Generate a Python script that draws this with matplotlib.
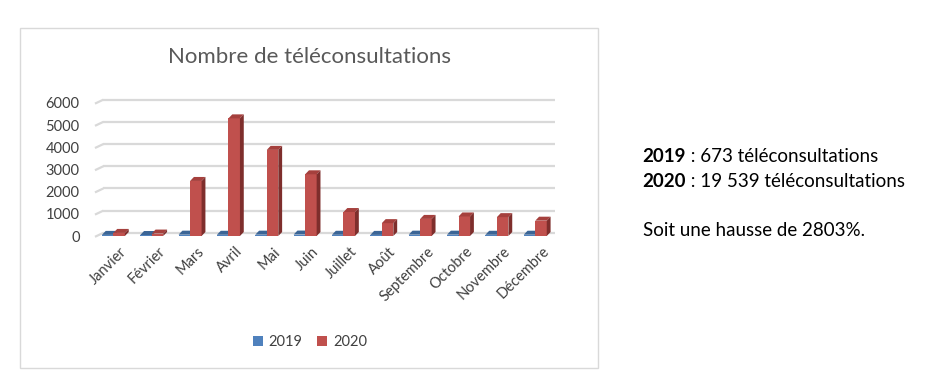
import numpy as np
import matplotlib.pyplot as plt
from matplotlib.patches import Polygon, Rectangle, Patch

plt.rcParams['font.family'] = ['Lato', 'DejaVu Sans']

months = ['Janvier', 'Février', 'Mars', 'Avril', 'Mai', 'Juin', 'Juillet',
          'Août', 'Septembre', 'Octobre', 'Novembre', 'Décembre']
v2019 = [50, 45, 60, 55, 60, 65, 55, 50, 60, 60, 55, 58]
v2020 = [139, 110, 2480, 5300, 3880, 2780, 1080, 580, 770, 880, 850, 690]
yticks = [0, 1000, 2000, 3000, 4000, 5000, 6000]

blue = ('#4F81BD', '#3B6596', '#2C4D74')
red = ('#C0504D', '#A5403D', '#7E2E2C')

fig = plt.figure(figsize=(9.45, 3.86), dpi=100)
ax = fig.add_axes([0.1005, 0.3886, 0.487, 0.345])
ax.set_xlim(-0.5, 11.5)
ax.set_ylim(0, 6000)

dx, dy = 0.1, 180   # fake depth for the 3D look
w = 0.3


def bar3d(x, v, cols):
    front, top, side = cols
    ax.add_patch(Polygon([(x, 0), (x + w, 0), (x + w, v), (x, v)],
                         closed=True, fc=front, ec='none', zorder=3))
    ax.add_patch(Polygon([(x, v), (x + w, v), (x + w + dx, v + dy), (x + dx, v + dy)],
                         closed=True, fc=top, ec='none', zorder=3))
    ax.add_patch(Polygon([(x + w, 0), (x + w + dx, dy), (x + w + dx, v + dy), (x + w, v)],
                         closed=True, fc=side, ec='none', zorder=3))


x = np.arange(len(months))
for i in x:
    bar3d(i - w - 0.02, v2019[i], blue)
    bar3d(i - 0.02, v2020[i], red)

# gridlines on the back wall with the little diagonal on the left
for t in yticks:
    ax.plot([-0.5, -0.28], [t - dy * 0.2, t + dy * 0.8], color='#D9D9D9', lw=1.6,
            zorder=1, clip_on=False, solid_capstyle='butt')
    ax.plot([-0.28, 11.5], [t + dy * 0.8, t + dy * 0.8], color='#D9D9D9', lw=1.6,
            zorder=1, clip_on=False, solid_capstyle='butt')

for s in ax.spines.values():
    s.set_visible(False)
ax.set_yticks(yticks)
ax.set_yticklabels([str(t) for t in yticks], fontsize=10.5, color='#404040')
ax.tick_params(axis='y', length=0, pad=11)
ax.set_xticks(x + 0.15)
ax.set_xticklabels(months, rotation=45, ha='right', rotation_mode='anchor',
                   fontsize=10.5, color='#404040')
ax.tick_params(axis='x', length=0, pad=6)

fig.text(0.328, 0.852, 'Nombre de téléconsultations', ha='center', va='center',
         fontsize=16, color='#595959')

fig.legend(handles=[Patch(fc=blue[0], label='2019'), Patch(fc=red[0], label='2020')],
           loc='center', bbox_to_anchor=(0.328, 0.114), ncol=2, frameon=False,
           fontsize=10.5, handlelength=0.7, handleheight=0.7, columnspacing=1.0,
           handletextpad=0.4, labelcolor='#404040')

fig.patches.append(Rectangle((0.0212, 0.0466), 0.6116, 0.881, transform=fig.transFigure,
                             fill=False, ec='#D9D9D9', lw=1))

# side text
lines = [('2019', ' : 673 téléconsultations', 0.572),
         ('2020', ' : 19 539 téléconsultations', 0.508)]
for b, rest, yy in lines:
    t = fig.text(0.680, yy, b, fontsize=13.5, fontweight='bold', va='bottom', color='black')
    ax.annotate(rest, xy=(1, 0), xycoords=t, va='bottom', fontsize=13.5, color='black')
fig.text(0.680, 0.382, 'Soit une hausse de 2803%.', fontsize=13.5, va='bottom', color='black')

fig.savefig('out.png', dpi=100)
